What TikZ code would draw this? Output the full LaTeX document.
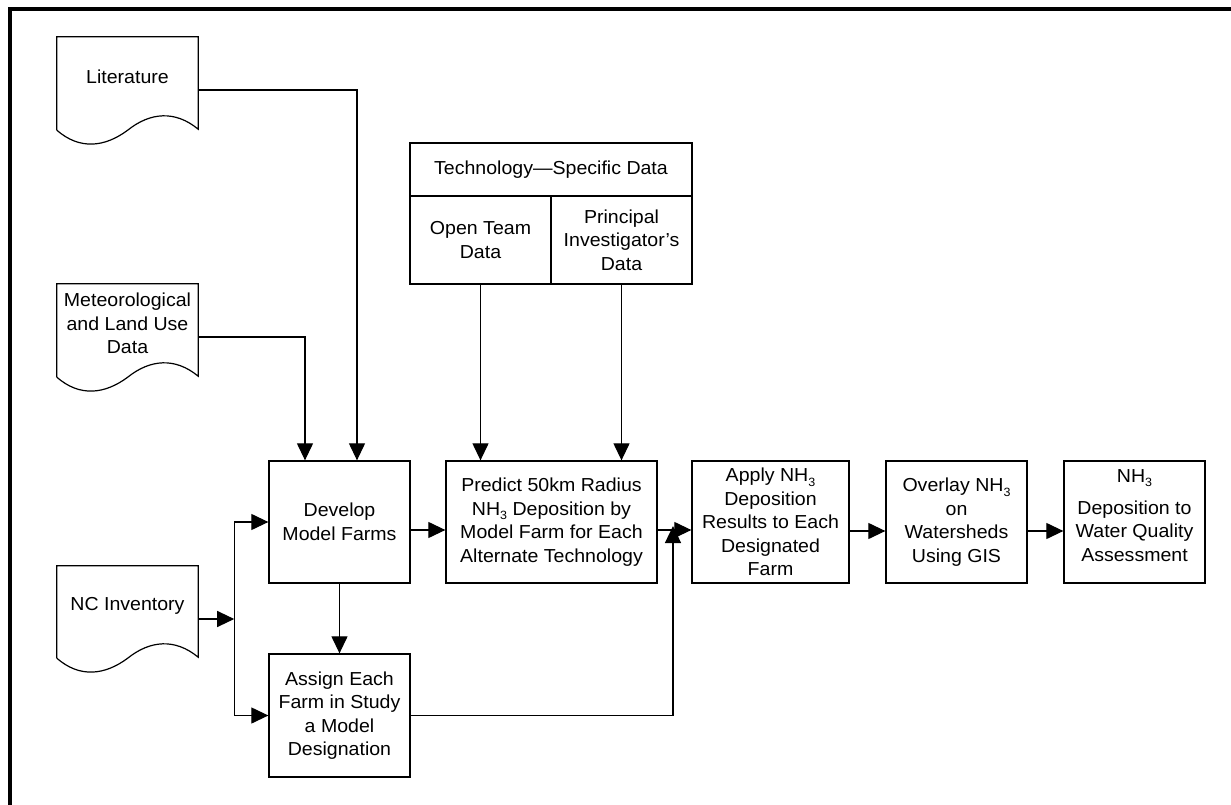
\documentclass[tikz,border=0pt]{standalone}
\usepackage{fontspec}
\setmainfont[FakeStretch=1.04]{Liberation Sans}
\usetikzlibrary{arrows.meta}
\tikzset{
  ln/.style={line width=1.2pt},
  box/.style={draw, line width=1.3pt, align=center, inner sep=0pt, minimum width=141pt, minimum height=122pt},
  docbox/.style={inner sep=0pt, minimum width=141pt, minimum height=93pt},
  doctext/.style={align=center, inner sep=0pt},
  arr/.style={-{Triangle[length=17pt,width=16pt]}, line width=1.2pt}
}
\newcommand{\docwave}[1]{%
  \draw[ln, line join=miter] (#1.south west) -- (#1.north west) -- (#1.north east) -- ([yshift=1pt]#1.south east)
    .. controls ([xshift=-23pt,yshift=20pt]#1.south east) and ([xshift=-48pt,yshift=18pt]#1.south east) .. ([xshift=-70.5pt]#1.south east)
    .. controls ([xshift=48pt,yshift=-17pt]#1.south west) and ([xshift=23pt,yshift=-20pt]#1.south west) .. (#1.south west);}
\newcommand{\nhthree}{NH\raisebox{-0.45ex}{\fontsize{12}{12}\selectfont 3}}
\begin{document}
\begin{tikzpicture}[x=1pt,y=-1pt,font=\fontsize{18.8}{23.5}\selectfont]
\useasboundingbox (0,0) rectangle (1231,805);
\clip (0,0) rectangle (1231,805);
\draw[line width=4pt, line join=miter] (10,900) -- (10,9) -- (1300,9);

% document shapes
\node[docbox] (lit) at (127.5,83.5) {};
\docwave{lit}
\node[doctext] (lit-t) at ([yshift=7pt]lit.center) {Literature};
\node[docbox] (met) at (127.5,330.5) {};
\docwave{met}
\node[doctext] (met-t) at ([yshift=7pt]met.center) {Meteorological\\and Land Use\\Data};
\node[docbox, minimum height=92pt] (nc) at (127.5,612) {};
\docwave{nc}
\node[doctext] (nc-t) at ([yshift=6pt]nc.center) {NC Inventory};

% technology box
\node[box, minimum width=282pt, minimum height=53pt] (tech) at (551,169.5) {Technology—Specific Data};
\node[box, minimum height=88pt] (open) at (480.5,240) {Open Team\\Data};
\node[box, minimum height=88pt] (pi) at (621.5,240) {Principal\\Investigator’s\\Data};

% process boxes
\node[box] (dev) at (339.5,522) {Develop\\Model Farms};
\node[box, minimum height=123pt] (assign) at (339.5,715.5) {Assign Each\\Farm in Study\\a Model\\Designation};
\node[box, minimum width=211pt] (pred) at (551.5,522) {Predict 50km Radius\\\nhthree{} Deposition by\\Model Farm for Each\\Alternate Technology};
\node[box, minimum width=157pt] (apply) at (770.5,522) {Apply \nhthree\\Deposition\\Results to Each\\Designated\\Farm};
\node[box] (overlay) at (956.5,522) {Overlay \nhthree\\on\\Watersheds\\Using GIS};
\node[box] (final) at (1134.5,522) {\nhthree\\[8.5pt]Deposition to\\Water Quality\\Assessment\\[-10.5pt]\mbox{}};

% connectors
\draw[arr] ([yshift=-6.5pt]lit.east) -| ([xshift=17.5pt]dev.north);
\draw[arr] ([yshift=-6.5pt]met.east) -| ([xshift=-34.5pt]dev.north);
\coordinate (jn) at ([xshift=36pt,yshift=-7pt]nc.east);
\draw[arr] ([yshift=-7pt]nc.east) -- (jn);
\draw[arr] (jn) |- (dev.west);
\draw[arr] (jn) |- (assign.west);
\draw[arr] (dev.south) -- (assign.north);
\draw[arr] (open.south) -- (open.south |- pred.north);
\draw[arr] (pi.south) -- (pi.south |- pred.north);
\draw[arr] ([yshift=-8pt]dev.east) -- ([yshift=-8pt]pred.west);
\draw[arr] ([yshift=-8pt]pred.east) -- ([yshift=-8pt]apply.west);
\coordinate (upend) at (673,526);
\draw[arr] (assign.east) -| (upend);
\draw[arr] ([yshift=-9pt]apply.east) -- ([yshift=-9pt]overlay.west);
\draw[arr] ([yshift=-9pt]overlay.east) -- ([yshift=-9pt]final.west);
\end{tikzpicture}
\end{document}
